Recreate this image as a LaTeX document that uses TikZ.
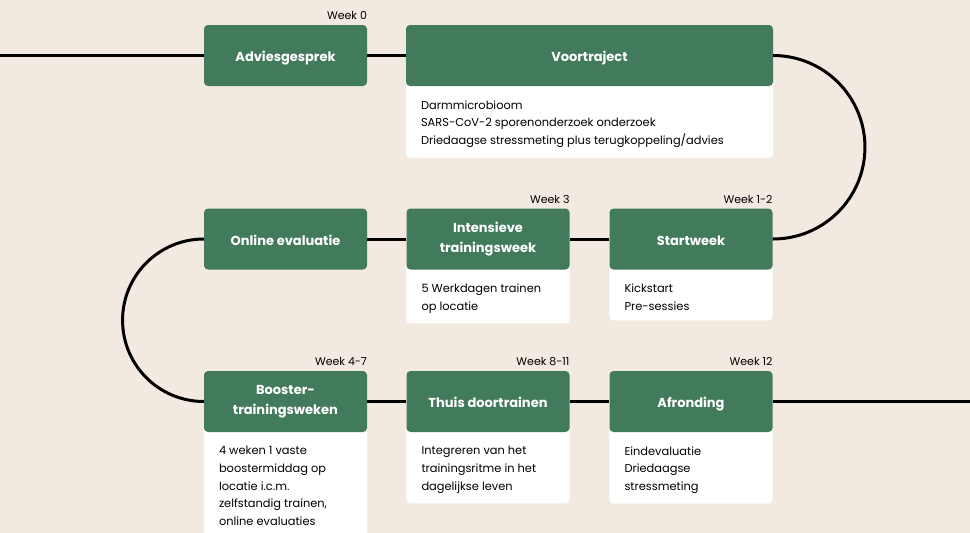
\documentclass[tikz,border=0pt]{standalone}
\usepackage{fontspec}
\setmainfont{Poppins}
\usetikzlibrary{backgrounds}
\definecolor{phasegreen}{RGB}{66,123,91}
\definecolor{paper}{RGB}{242,234,225}

\begin{document}
\begin{tikzpicture}[x=1pt,y=-1pt,
  phase/.style={fill=phasegreen,text=white,rounded corners=4pt,minimum width=163pt,minimum height=61pt,inner sep=0pt,align=center,font=\fontsize{13}{20}\selectfont\bfseries,
    execute at begin node={\rule{0pt}{16pt}},execute at end node={\rule[-4pt]{0pt}{0pt}}},
  widephase/.style={phase,minimum width=367pt},
  detail/.style={anchor=north west,yshift=-4pt,align=left,inner xsep=15pt,inner ysep=10pt,font=\fontsize{11.4}{17.6}\selectfont},
  week/.style={anchor=south east,inner sep=0pt,yshift=5pt,font=\fontsize{11}{12}\selectfont},
  track/.style={line width=3pt},
  card/.style={fill=white,rounded corners=4pt}]
\useasboundingbox (0,0) rectangle (970,533);
\node[phase] (advies) at (285.5,55.5) {Adviesgesprek};
\node[widephase] (voor) at (589.5,55.5) {Voortraject};
\node[phase] (online) at (285.5,239) {Online evaluatie};
\node[phase] (intens) at (488,239) {Intensieve\\trainingsweek};
\node[phase] (start) at (691,239) {Startweek};
\node[phase] (booster) at (285.5,401.5) {Booster-\\trainingsweken};
\node[phase] (thuis) at (488,401.5) {Thuis doortrainen};
\node[phase] (afrond) at (691,401.5) {Afronding};
\node[week] (w0) at (advies.north east) {Week 0};
\node[week] (w3) at (intens.north east) {Week 3};
\node[week] (w12a) at (start.north east) {Week 1-2};
\node[week] (w47) at (booster.north east) {Week 4-7};
\node[week] (w811) at (thuis.north east) {Week 8-11};
\node[week] (w12) at (afrond.north east) {Week 12};
\node[detail] (voortxt) at (voor.south west) {Darmmicrobioom\\SARS-CoV-2 sporenonderzoek onderzoek\\Driedaagse stressmeting plus terugkoppeling/advies};
\node[detail] (intenstxt) at (intens.south west) {5 Werkdagen trainen\\op locatie};
\node[detail] (starttxt) at (start.south west) {Kickstart\\Pre-sessies};
\node[detail] (boostertxt) at (booster.south west) {4 weken 1 vaste\\boostermiddag op\\locatie i.c.m.\\zelfstandig trainen,\\online evaluaties};
\node[detail] (thuistxt) at (thuis.south west) {Integreren van het\\trainingsritme in het\\dagelijkse leven};
\node[detail] (afrondtxt) at (afrond.south west) {Eindevaluatie\\Driedaagse\\stressmeting};
\coordinate (lead) at (0,55.5);
\coordinate (tail) at (970,401.5);
\begin{scope}[on background layer]
\fill[paper] (0,0) rectangle (970,533);
\fill[card] ([yshift=6pt]voor.south west) rectangle (voortxt.south -| voor.east);
\fill[card] ([yshift=6pt]intens.south west) rectangle (intenstxt.south -| intens.east);
\fill[card] ([yshift=6pt]start.south west) rectangle (starttxt.south -| start.east);
\fill[card] ([yshift=6pt]booster.south west) rectangle ([yshift=-20pt]boostertxt.south -| booster.east);
\fill[card] ([yshift=6pt]thuis.south west) rectangle (thuistxt.south -| thuis.east);
\fill[card] ([yshift=6pt]afrond.south west) rectangle (afrondtxt.south -| afrond.east);
\end{scope}
\draw[track] (lead) -- (advies.west) (advies.east) -- (voor.west);
\draw[track] (voor.east) arc[start angle=90,end angle=-90,radius=91.75pt] -- (start.east);
\draw[track] (start.west) -- (intens.east) (intens.west) -- (online.east);
\draw[track] (online.west) arc[start angle=90,end angle=270,radius=81.25pt] -- (booster.west);
\draw[track] (booster.east) -- (thuis.west) (thuis.east) -- (afrond.west) (afrond.east) -- (tail);
\end{tikzpicture}
\end{document}
